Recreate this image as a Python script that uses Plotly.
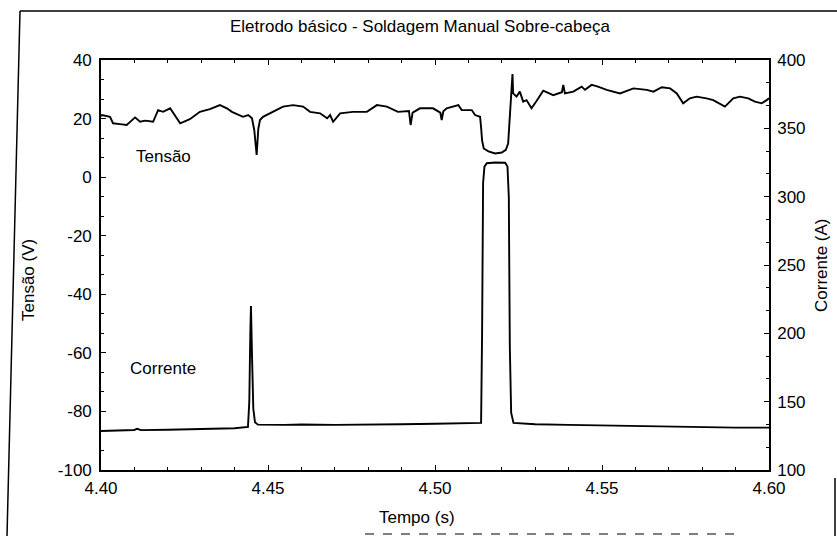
import plotly.graph_objects as go

# Arc voltage trace (time in s, voltage in V)
tempo_v = [4.4000, 4.4003, 4.4027, 4.4036, 4.4057, 4.4077, 4.4102, 4.4117, 4.4132, 4.4156,
           4.4171, 4.4186, 4.4207, 4.4237, 4.4266, 4.4296, 4.4326, 4.4356, 4.4377, 4.4392,
           4.4425, 4.4441, 4.4452, 4.4459, 4.4466, 4.4471, 4.4476, 4.4485, 4.4545, 4.4575,
           4.4605, 4.4626, 4.4656, 4.4677, 4.4686, 4.4695, 4.4716, 4.4754, 4.4796, 4.4826,
           4.4856, 4.4889, 4.4922, 4.4927, 4.4933, 4.4955, 4.4994, 4.5016, 4.5020, 4.5025,
           4.5035, 4.5070, 4.5080, 4.5110, 4.5120, 4.5135, 4.5138, 4.5141, 4.5146, 4.5160,
           4.5180, 4.5200, 4.5212, 4.5219, 4.5222, 4.5225, 4.5232, 4.5234, 4.5244, 4.5254,
           4.5264, 4.5274, 4.5289, 4.5304, 4.5324, 4.5354, 4.5380, 4.5384, 4.5389, 4.5414,
           4.5439, 4.5449, 4.5469, 4.5488, 4.5514, 4.5554, 4.5594, 4.5634, 4.5654, 4.5679,
           4.5704, 4.5724, 4.5743, 4.5763, 4.5783, 4.5813, 4.5833, 4.5868, 4.5893, 4.5913,
           4.5938, 4.5958, 4.5978, 4.5993, 4.6000]
tensao = [20.8, 21.2, 20.6, 18.4, 18.1, 17.8, 20.4, 18.9, 19.3, 18.9,
          22.9, 22.3, 23.5, 18.4, 19.8, 22.3, 23.2, 24.6, 23.5, 22.3,
          20.6, 21.2, 20.1, 16.0, 7.6, 16.5, 19.5, 20.6, 24.1, 24.6,
          24.1, 22.3, 21.8, 20.1, 21.2, 18.9, 21.8, 22.3, 22.3, 24.6,
          24.1, 22.3, 22.6, 17.8, 22.0, 23.5, 23.5, 22.0, 19.5, 22.5,
          23.5, 24.6, 22.9, 22.9, 21.2, 20.6, 17.0, 12.5, 9.8, 8.8,
          8.1, 8.4, 9.3, 11.5, 17.0, 24.0, 35.2, 28.6, 27.5, 29.2,
          25.8, 26.3, 23.5, 26.0, 29.5, 28.0, 29.0, 31.5, 28.6, 29.2,
          30.9, 29.8, 31.5, 30.9, 29.8, 28.6, 30.3, 29.8, 29.2, 30.7,
          30.3, 28.6, 25.2, 26.9, 27.5, 26.9, 26.3, 24.1, 26.9, 27.5,
          26.9, 25.8, 25.2, 26.3, 26.9]

# Welding current trace (time in s, current in A)
tempo_i = [4.4000, 4.4050, 4.4100, 4.4108, 4.4120, 4.4200, 4.4300, 4.4400, 4.4440, 4.4444,
           4.4447, 4.4449, 4.4452, 4.4456, 4.4461, 4.4470, 4.4550, 4.4600, 4.4700, 4.4800,
           4.4900, 4.5000, 4.5100, 4.5138, 4.5141, 4.5144, 4.5148, 4.5155, 4.5180, 4.5210,
           4.5217, 4.5221, 4.5224, 4.5228, 4.5235, 4.5300, 4.5400, 4.5500, 4.5600, 4.5700,
           4.5800, 4.5900, 4.6000]
corrente = [128.5, 128.8, 129.3, 130.2, 129.2, 129.4, 130.0, 130.6, 131.5, 150.0,
            200.0, 220.0, 185.0, 145.0, 135.0, 133.2, 133.0, 133.3, 133.0, 133.5,
            133.5, 133.8, 134.0, 134.5, 200.0, 310.0, 322.0, 324.5, 325.0, 324.8,
            322.0, 300.0, 190.0, 142.0, 134.5, 133.5, 133.0, 132.5, 132.0, 131.5,
            131.3, 131.0, 131.0]

x_ticks = [4.40, 4.45, 4.50, 4.55, 4.60]
x_labels = ["4.40", "4.45", "4.50", "4.55", "4.60"]
y1_ticks = [-100, -80, -60, -40, -20, 0, 20, 40]
y1_labels = ["-100", "-80", "-60", "-40", "-20", "0", "20", "40"]
y2_ticks = [100, 150, 200, 250, 300, 350, 400]
y2_labels = ["100", "150", "200", "250", "300", "350", "400"]

FONT = "Liberation Sans, Arial, sans-serif"
FS = 17
W, H = 837, 536
ML, MR, MT, MB = 101, 68, 60, 66
PW, PH = W - ML - MR, H - MT - MB


def px(x):
    return (x - ML) / PW


def py(y):
    return (H - MB - y) / PH


fig = go.Figure()
fig.add_trace(go.Scatter(x=tempo_v, y=tensao, mode="lines", name="Tensão",
                         line=dict(color="black", width=1.9), yaxis="y"))
fig.add_trace(go.Scatter(x=tempo_i, y=corrente, mode="lines", name="Corrente",
                         line=dict(color="black", width=1.9), yaxis="y2"))

axis_common = dict(showgrid=False, zeroline=False, linecolor="black", linewidth=1.6,
                   ticks="inside", ticklen=5, tickcolor="black", tickwidth=1,
                   tickfont=dict(family=FONT, size=FS, color="black"))

fig.update_layout(
    width=W, height=H,
    margin=dict(l=ML, r=MR, t=MT, b=MB),
    paper_bgcolor="white", plot_bgcolor="white",
    showlegend=False,
    xaxis=dict(range=[4.40, 4.60], tickvals=x_ticks, ticktext=x_labels,
               mirror="ticks", showline=True, ticklabelstandoff=2,
               minor=dict(dtick=0.01, ticks="inside", ticklen=3, tickcolor="black"),
               **axis_common),
    yaxis=dict(range=[-100, 40], tickvals=y1_ticks, ticktext=y1_labels,
               showline=True, mirror=True, ticklabelstandoff=4,
               minor=dict(dtick=20 / 3, ticks="inside", ticklen=3, tickcolor="black"),
               **axis_common),
    yaxis2=dict(range=[100, 400], tickvals=y2_ticks, ticktext=y2_labels,
                overlaying="y", side="right", showline=True, ticklabelstandoff=3,
                minor=dict(dtick=50 / 3, ticks="inside", ticklen=3, tickcolor="black"),
                **axis_common),
)

text_font = dict(family=FONT, size=FS, color="black")
centered = dict(showarrow=False, font=text_font, xanchor="center", yanchor="middle")
annotations = [
    dict(text="Eletrodo básico - Soldagem Manual Sobre-cabeça", xref="paper", yref="paper",
         x=px(420), y=py(27), **centered),
    dict(text="Tempo (s)", xref="paper", yref="paper",
         x=px(417), y=py(517), **centered),
    dict(text="Tensão (V)", xref="paper", yref="paper", textangle=-90,
         x=px(28), y=py(280), **centered),
    dict(text="Corrente (A)", xref="paper", yref="paper", textangle=-90,
         x=px(821), y=py(265), **centered),
    dict(text="Tensão", xref="x", yref="y", x=4.4186, y=6.9, **centered),
    dict(text="Corrente", xref="x", yref="y2", x=4.4186, y=174, **centered),
]
fig.update_layout(annotations=annotations)

# Outer frame around the whole figure
frame = [((20, 11), (837, 11)), ((20, 11), (7, 536)), ((835, 478), (835, 536))]
shapes = []
for (x0, y0), (x1, y1) in frame:
    shapes.append(dict(type="line", xref="paper", yref="paper",
                       x0=px(x0), y0=py(y0), x1=px(x1), y1=py(y1),
                       line=dict(color="black", width=1.5)))
shapes.append(dict(type="line", xref="paper", yref="paper",
                   x0=px(365), y0=py(534), x1=px(735), y1=py(534),
                   line=dict(color="#555555", width=1.5, dash="dash")))
fig.update_layout(shapes=shapes)

fig.write_html("out.html")
